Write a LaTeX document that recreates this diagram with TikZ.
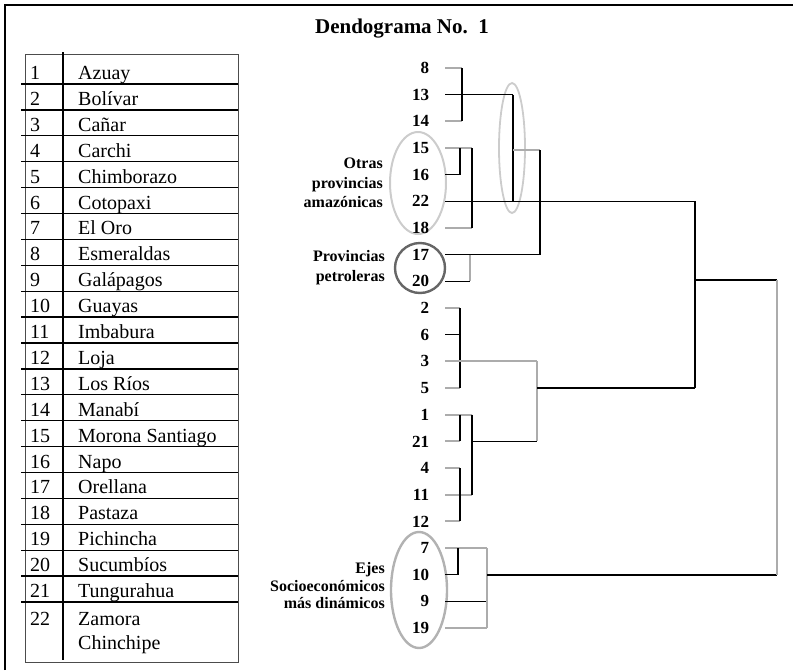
\documentclass[tikz,border=0pt]{standalone}
\usepackage{fontspec}
\setmainfont{Liberation Serif}
\usetikzlibrary{shapes.geometric}
\begin{document}
\begin{tikzpicture}[x=1pt, y=-1pt,
    leaf/.style={font=\fontsize{17}{17}\selectfont\bfseries, anchor=east, inner xsep=0pt, outer xsep=16pt, inner ysep=1pt},
    tabtext/.style={font=\fontsize{20}{24}\selectfont, anchor=base west, inner sep=0pt},
    grouplabel/.style={align=right, anchor=east, inner sep=0pt},
    blk/.style={line width=1.4pt, black},
    gry/.style={line width=2pt, gray!65},
    ring/.style={ellipse, draw, inner sep=0pt}]
    \useasboundingbox (0,0) rectangle (793,670);
    \draw[line width=1.2pt] (5,670) -- (5,5) -- (793,5);
    \node[font=\fontsize{21}{24}\selectfont\bfseries] (title) at (402,29) {Dendograma No.\enspace 1};

    \draw[line width=0.8pt, gray!60!black] (25,54) rectangle (238,662);
    \draw[line width=2pt] (63,52) -- (63,660);
    \foreach \k in {1,...,21}
        \draw[line width=1.3pt] (21,58.1+25.9*\k) -- (238,58.1+25.9*\k);
    \foreach \t [count=\k] in {Azuay, Bolívar, Cañar, Carchi, Chimborazo, Cotopaxi, El Oro, Esmeraldas, Galápagos, Guayas, Imbabura, Loja, Los Ríos, Manabí, Morona Santiago, Napo, Orellana, Pastaza, Pichincha, Sucumbíos, Tungurahua} {
        \node[tabtext] (num\k) at (30,53.6+25.9*\k) {\k};
        \node[tabtext] (name\k) at (78,53.6+25.9*\k) {\t};
    }
    \node[tabtext] (num22) at (30,625) {22};
    \node[tabtext, align=left] (name22) at (78,649) {Zamora\\Chinchipe};

    \node[ring, gray!40, line width=2pt, minimum width=56, minimum height=102] (amaz) at (418,183) {};
    \node[ring, gray!40, line width=1.8pt, minimum width=26, minimum height=130] (grp) at (512,148) {};
    \node[circle, draw, gray!80!black, line width=2.4pt, minimum size=50, inner sep=0pt] (petro) at (420,268) {};
    \node[ring, gray!60, line width=2.4pt, minimum width=56, minimum height=116] (ejes) at (419,590) {};

    \foreach \n [count=\i from 0] in {8,13,14,15,16,22,18,17,20,2,6,3,5,1,21,4,11,12,7,10,9,19}
        \node[leaf] (l\n) at (445,68+26.67*\i) {\n};

    \node[grouplabel, font=\fontsize{16}{19.5}\selectfont\bfseries] (lbamaz) at (383,183) {Otras\\provincias\\amazónicas};
    \node[grouplabel, font=\fontsize{16}{20}\selectfont\bfseries] (lbpetro) at (385,268) {Provincias\\petroleras};
    \node[grouplabel, font=\fontsize{16}{17.5}\selectfont\bfseries] (lbejes) at (385,586) {Ejes\\Socioeconómicos\\más dinámicos};

    \coordinate (jg) at (458,0);
    \coordinate (jb) at (460,0);
    \coordinate (ja) at (462,0);
    \coordinate (jd) at (470,0);
    \coordinate (jc) at (472,0);
    \coordinate (jf) at (487,0);
    \coordinate (jk) at (513,0);
    \coordinate (je) at (537,0);
    \coordinate (jp) at (540,0);
    \coordinate (jt) at (695,0);
    \coordinate (jz) at (777,0);
    \coordinate (jm) at (513,150);
    \coordinate (jq) at (695,280);
    \coordinate (jr) at (487,575);

    \draw[gry] (l8.east) -- (l8.east -| ja);
    \draw[gry] (l14.east) -- (l14.east -| ja);
    \draw[blk] (l8.east -| ja) -- (l14.east -| ja);
    \draw[blk] (l13.east) -- (l13.east -| jk);

    \draw[gry] (l15.east) -- (l15.east -| jc);
    \draw[blk] (l16.east) -- (l16.east -| jb);
    \draw[blk] (l15.east -| jb) -- (l16.east -| jb);
    \draw[gry] (l18.east) -- (l18.east -| jc);
    \draw[blk] (l15.east -| jc) -- (l18.east -| jc);
    \draw[blk] (l22.east) -- (l22.east -| jt);
    \draw[blk] (l13.east -| jk) -- (l22.east -| jk);
    \draw[gry] (jm) -- (jm -| jp);
    \draw[blk] (jm -| jp) -- (l17.east -| jp);
    \draw[blk] (l17.east) -- (l17.east -| jp);
    \draw[blk] (l20.east) -- (l20.east -| jd);
    \draw[gry] (l17.east -| jd) -- (l20.east -| jd);

    \draw[gry] (l2.east) -- (l2.east -| jb);
    \draw[blk] (l6.east) -- (l6.east -| jb);
    \draw[gry] (l5.east) -- (l5.east -| jb);
    \draw[blk] (l2.east -| jb) -- (l5.east -| jb);
    \draw[gry] (l3.east) -- (l3.east -| je);
    \draw[gry] (l3.east -| je) -- (l21.east -| je);
    \draw[blk] (l5.east -| je) -- (l5.east -| jt);

    \draw[gry] (l1.east) -- (l1.east -| jc);
    \draw[gry] (l21.east) -- (l21.east -| jb);
    \draw[blk] (l1.east -| jb) -- (l21.east -| jb);
    \draw[gry] (l11.east) -- (l11.east -| jc);
    \draw[blk] (l1.east -| jc) -- (l11.east -| jc);
    \draw[gry] (l4.east) -- (l4.east -| jb);
    \draw[gry] (l12.east) -- (l12.east -| jb);
    \draw[blk] (l4.east -| jb) -- (l12.east -| jb);
    \draw[blk] (l21.east -| jc) -- (l21.east -| je);

    \draw[gry] (l7.east) -- (l7.east -| jf);
    \draw[blk] (l10.east) -- (l10.east -| jg);
    \draw[blk] (l7.east -| jg) -- (l10.east -| jg);
    \draw[blk] (l9.east) -- (l9.east -| jf);
    \draw[gry] (l19.east) -- (l19.east -| jf);
    \draw[gry] (l7.east -| jf) -- (l19.east -| jf);
    \draw[blk] (jr) -- (jr -| jz);

    \draw[blk] (l22.east -| jt) -- (l5.east -| jt);
    \draw[blk] (jq) -- (jq -| jz);
    \draw[gry] (jq -| jz) -- (jr -| jz);
\end{tikzpicture}
\end{document}
